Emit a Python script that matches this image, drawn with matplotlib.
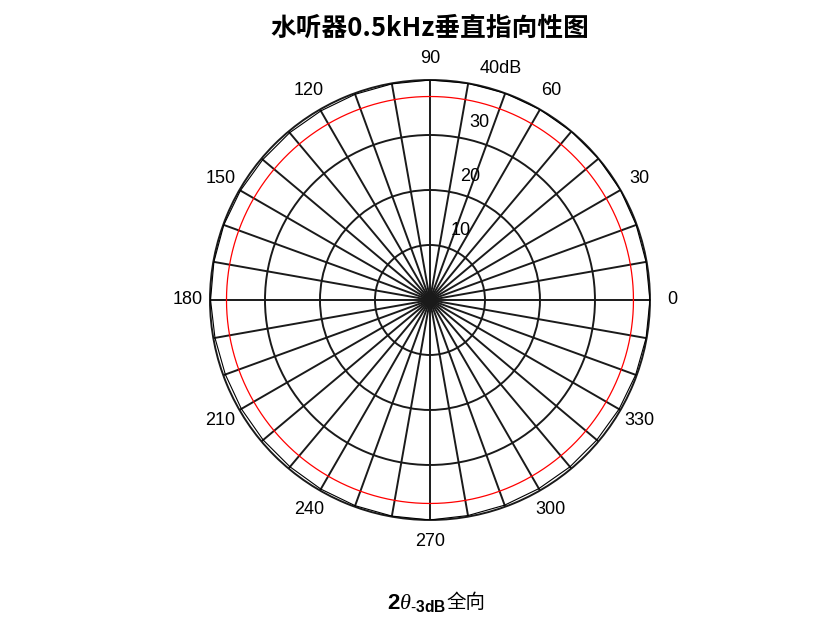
import numpy as np
import matplotlib
matplotlib.use('Agg')
import matplotlib.pyplot as plt

plt.rcParams['font.family'] = ['Liberation Sans', 'Noto Sans CJK SC', 'DejaVu Sans']
plt.rcParams['mathtext.fontset'] = 'custom'
plt.rcParams['mathtext.rm'] = 'Liberation Sans'
plt.rcParams['mathtext.bf'] = 'Liberation Sans:bold'
plt.rcParams['mathtext.it'] = 'Liberation Serif:italic'

# measured level (dB) every 10 degrees, 0..360
angles_deg = np.arange(0, 370, 10)
level_db = [40.0, 39.9, 39.9, 40.0, 40.0, 40.0, 40.0, 40.0, 40.0, 40.0,
            39.9, 39.8, 39.7, 39.7, 39.7, 39.8, 39.9, 39.9, 39.9,
            39.7, 39.6, 39.6, 39.6, 39.6, 39.7, 39.8, 39.9, 40.0,
            39.8, 39.7, 39.6, 39.6, 39.6, 39.7, 39.8, 39.9, 40.0]
level_3db = 37.0
r_ticks = [10, 20, 30, 40]
r_tick_labels = ['10', '20', '30', '40dB']
theta_labels = [0, 30, 60, 90, 120, 150, 180, 210, 240, 270, 300, 330]
r_max = 40

fig = plt.figure(figsize=(8.32, 6.24), dpi=100)
ax = fig.add_axes([0.2524, 0.1667, 0.5288, 0.7051], projection='polar')

th = np.deg2rad(angles_deg)
ax.plot(th, level_db, color='black', lw=0.8, zorder=4)
full = np.linspace(0, 2 * np.pi, 721)
ax.plot(full, np.full_like(full, level_3db), color='red', lw=0.9, zorder=3)

ax.set_ylim(0, r_max)
ax.set_thetagrids(np.arange(0, 360, 10), labels=[''] * 36)
ax.set_rgrids(r_ticks[:-1], labels=[''] * 3)
ax.grid(True, color='#1a1a1a', lw=1.4, ls='-')
ax.spines['polar'].set_color('#1a1a1a')
ax.spines['polar'].set_linewidth(1.4)
ax.tick_params(length=0)

for a in theta_labels:
    ax.text(np.deg2rad(a), 44, str(a), ha='center', va='center', fontsize=13)

for r, lab in zip(r_ticks, r_tick_labels):
    ax.annotate(lab, xy=(np.deg2rad(80), r), xytext=(11, 15),
                textcoords='offset pixels', ha='left', va='center', fontsize=13)

fig.text(0.517, 0.955, '水听器0.5kHz垂直指向性图', ha='center', va='center',
         fontsize=18.5, fontweight='bold', family=['Noto Sans CJK SC', 'DejaVu Sans'])
fig.text(0.536, 0.033, r'$\mathbf{2}\mathit{\theta}_{\mathbf{\text{-}3dB}}$',
         ha='right', va='center', fontsize=16)
fig.text(0.537, 0.034, '全向', ha='left', va='center', fontsize=14,
         family=['Noto Sans CJK SC'])

fig.savefig('out.png', dpi=100)
